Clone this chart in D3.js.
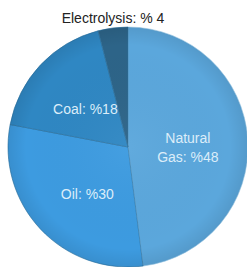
<!DOCTYPE html>
<html>
<head>
<meta charset="utf-8">
<script src="https://cdn.jsdelivr.net/npm/d3@7"></script>
<style>
  body { margin: 0; background: #fff; }
  svg { display: block; }
</style>
</head>
<body>
<div id="chart"></div>
<script>
var width = 247;
var height = 267;

// data, clockwise from 12 o'clock
var sources = ["Natural Gas", "Oil", "Coal", "Electrolysis"];
var shares = [48, 30, 18, 4];
var labels = [["Natural", "Gas: %48"], ["Oil: %30"], ["Coal: %18"], ["Electrolysis: % 4"]];
var colors = ["#5ba7dc", "#3d9be0", "#2f87c3", "#2d6488"];

var data = sources.map(function(s, i) {
  return { source: s, share: shares[i], label: labels[i], color: colors[i] };
});

var cx = 128, cy = 147, radius = 120;

var svg = d3.select("#chart")
  .append("svg")
  .attr("width", width)
  .attr("height", height);

// soft shading over the disc
var defs = svg.append("defs");
var shade = defs.append("radialGradient")
  .attr("id", "shade")
  .attr("cx", "50%").attr("cy", "50%").attr("r", "50%");
shade.append("stop").attr("offset", "0%").attr("stop-color", "#fff").attr("stop-opacity", 0.04);
shade.append("stop").attr("offset", "85%").attr("stop-color", "#000").attr("stop-opacity", 0.0);
shade.append("stop").attr("offset", "100%").attr("stop-color", "#000").attr("stop-opacity", 0.08);

var pie = d3.pie()
  .sort(null)
  .value(function(d) { return d.share; });

var arc = d3.arc()
  .innerRadius(0)
  .outerRadius(radius);

var g = svg.append("g")
  .attr("transform", "translate(" + cx + "," + cy + ")");

var arcs = pie(data);

g.selectAll("path.slice")
  .data(arcs)
  .enter()
  .append("path")
  .attr("class", "slice")
  .attr("d", arc)
  .attr("fill", function(d) { return d.data.color; })
  .attr("stroke", function(d, i) { return i === 0 ? "#9fcbe8" : "#2a6f9e"; })
  .attr("stroke-width", 0.8)
  .attr("stroke-opacity", 0.8);

g.append("circle")
  .attr("r", radius)
  .attr("fill", "url(#shade)");

// label positions along the slice bisector (fraction of radius) plus a nudge
var labelRadius = [0.5, 0.5, 0.51, 0];
var nudge = [[0, 4], [3, 6], [2, 4], [0, 0]];
var textColor = "#dcedf9";

arcs.forEach(function(a, i) {
  var lines = a.data.label;
  var t;
  if (a.data.source === "Electrolysis") {
    t = g.append("text")
      .attr("x", 113 - cx)
      .attr("y", 23 - cy)
      .attr("fill", "#222")
      .attr("text-anchor", "middle");
  } else {
    var c = d3.arc().innerRadius(radius * labelRadius[i]).outerRadius(radius * labelRadius[i]).centroid(a);
    t = g.append("text")
      .attr("x", c[0] + nudge[i][0])
      .attr("y", c[1] + nudge[i][1] - (lines.length - 1) * 9.5)
      .attr("fill", textColor)
      .attr("text-anchor", "middle")
      .attr("dominant-baseline", "central");
  }
  t.style("font-family", "'Liberation Sans', Arial, sans-serif")
    .style("font-size", "14px");
  lines.forEach(function(line, j) {
    t.append("tspan")
      .attr("x", t.attr("x"))
      .attr("dy", j === 0 ? 0 : 19)
      .text(line);
  });
});
</script>
</body>
</html>
